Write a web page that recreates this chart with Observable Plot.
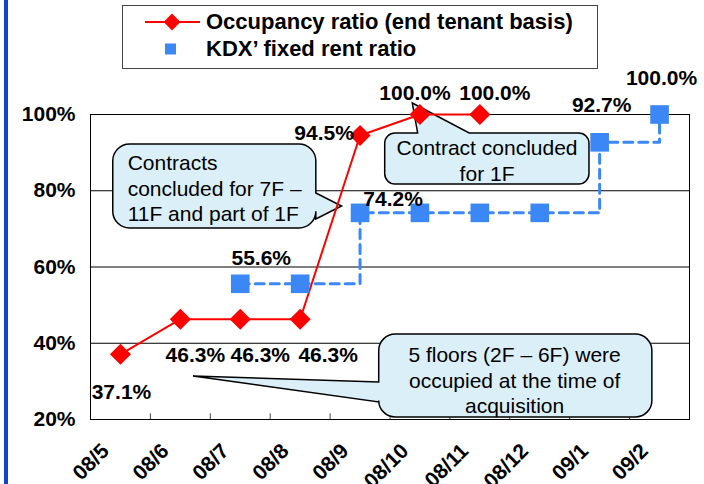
<!DOCTYPE html>
<html><head><meta charset="utf-8">
<script src="https://cdn.jsdelivr.net/npm/d3@7"></script>
<script src="https://cdn.jsdelivr.net/npm/@observablehq/plot@0.6"></script>
<style>
body{margin:0;background:#fff;}
#wrap{position:relative;width:704px;height:484px;overflow:hidden;font-family:"Liberation Sans",Arial,sans-serif;background:#fff;}
#chart{position:absolute;left:0;top:0;}
#bar{position:absolute;left:4px;top:0;width:4px;height:484px;background:#0e48c8;}
#legendBox{position:absolute;left:122px;top:5px;width:474px;height:62px;border:1px solid #444;background:#fff;}
.lg-text{position:absolute;left:206px;height:27px;line-height:27px;font-weight:bold;font-size:22px;color:#000;white-space:nowrap;}
#legendSym{position:absolute;left:140px;top:5px;}
</style></head>
<body><div id="wrap"><div id="chart"></div><div id="bar"></div><div id="legendBox"></div><svg id="legendSym" width="70" height="62"></svg><div class="lg-text" id="lg0" style="top:8px"></div><div class="lg-text" id="lg1" style="top:35px"></div></div>
<script>
// ---- data ----
const months = ["08/5","08/6","08/7","08/8","08/9","08/10","08/11","08/12","09/1","09/2"];
const occupancy = [37.1, 46.3, 46.3, 46.3, 94.5, 100.0, 100.0, null, null, null];
const fixedRent = [null, null, 55.6, 55.6, 74.2, 74.2, 74.2, 74.2, 92.7, 100.0];
const yTicks = [20, 40, 60, 80, 100];
const seriesNames = ["Occupancy ratio (end tenant basis)", "KDX\u2019 fixed rent ratio"];
const calloutTexts = [
  "Contracts\nconcluded for 7F \u2013\n11F and part of 1F",
  "Contract concluded\nfor 1F",
  "5 floors (2F \u2013 6F) were\noccupied at the time of\nacquisition"
];

// ---- layout (label offsets in px, callout geometry in data units) ----
const occLabelOffset = [[1,38],[15,36],[20,36],[28,36],[-36,-2],[-5,-21],[15,-21],null,null,null];
const fixLabelOffset = [null,null,[21,-26],null,[33,-14],null,null,null,[2,-37],[2,-36]];
const callouts = [
  {box:[-0.12, 3.27, 92.13, 70.10], tip:[3.70, 75.87], side:"right", base:[79.28, 72.46], tx:0.12, ty:80.85, anchor:"start"},
  {box:[4.42, 7.83, 95.02, 81.64], tip:[4.88, 102.89], side:"top", base:[4.97, 5.83], tx:6.12, ty:88.07, anchor:"middle"},
  {box:[4.32, 8.88, 42.30, 20.52], tip:[1.22, 31.28], side:"left", base:[29.70, 24.46], tx:6.58, ty:30.49, anchor:"middle"}
];

const RED = "#ff0000", BLUE = "#3b87f5", CALLFILL = "#dbeff9";
const fmt = v => v.toFixed(1) + "%";

const occData = months.map((m, i) => ({i, m, v: occupancy[i]})).filter(d => d.v != null);
const fixData = months.map((m, i) => ({i, m, v: fixedRent[i]})).filter(d => d.v != null);
const calloutData = callouts.map((c, k) => ({...c, text: calloutTexts[k]}));

const diamondSym = {draw(ctx, size) {
  const r = Math.sqrt(size) * 0.62625;
  ctx.moveTo(0, -r); ctx.lineTo(r, 0); ctx.lineTo(0, r); ctx.lineTo(-r, 0); ctx.closePath();
}};

function calloutShapes(index, scales) {
  const x = scales.x, y = scales.y;
  const g = d3.create("svg:g");
  for (const c of calloutData) {
    const X1 = x(c.box[0]), X2 = x(c.box[1]), YT = y(c.box[2]), YB = y(c.box[3]);
    const r = 0.2 * Math.min(X2 - X1, YB - YT);
    const T = [x(c.tip[0]), y(c.tip[1])];
    let p = `M${X1 + r},${YT}`;
    if (c.side === "top") { const [a, b] = c.base.map(v => x(v)).sort((m, n) => m - n); p += `L${a},${YT}L${T[0]},${T[1]}L${b},${YT}`; }
    p += `L${X2 - r},${YT}A${r},${r} 0 0 1 ${X2},${YT + r}`;
    if (c.side === "right") { const [a, b] = c.base.map(v => y(v)).sort((m, n) => m - n); p += `L${X2},${a}L${T[0]},${T[1]}L${X2},${b}`; }
    p += `L${X2},${YB - r}A${r},${r} 0 0 1 ${X2 - r},${YB}`;
    p += `L${X1 + r},${YB}A${r},${r} 0 0 1 ${X1},${YB - r}`;
    if (c.side === "left") { const [a, b] = c.base.map(v => y(v)).sort((m, n) => n - m); p += `L${X1},${a}L${T[0]},${T[1]}L${X1},${b}`; }
    p += `L${X1},${YT + r}A${r},${r} 0 0 1 ${X1 + r},${YT}Z`;
    g.append("path").attr("d", p).attr("fill", CALLFILL).attr("stroke", "#000").attr("stroke-width", 1.5);
  }
  return g.node();
}

const labelMarks = [];
occData.forEach(d => {
  const o = occLabelOffset[d.i];
  if (o) labelMarks.push(Plot.text([d], {x: "i", y: "v", text: e => fmt(e.v), dx: o[0], dy: o[1], fontWeight: "bold", fontSize: 21, fill: "#000"}));
});
fixData.forEach(d => {
  const o = fixLabelOffset[d.i];
  if (o) labelMarks.push(Plot.text([d], {x: "i", y: "v", text: e => fmt(e.v), dx: o[0], dy: o[1], fontWeight: "bold", fontSize: 21, fill: "#000"}));
});

const plot = Plot.plot({
  width: 704, height: 484,
  marginTop: 114, marginBottom: 65, marginLeft: 90, marginRight: 15,
  x: {type: "linear", domain: [-0.5, 9.5]},
  y: {domain: [20, 100]},
  style: {fontFamily: "'Liberation Sans', Arial, sans-serif", fontSize: "21px", background: "transparent", overflow: "visible", color: "#000"},
  marks: [
    Plot.ruleY(yTicks.filter(t => t > 20 && t < 100), {stroke: "#000", strokeWidth: 1}),
    Plot.ruleX(d3.range(1, months.length).map(i => i - 0.5), {y1: 20, y2: 21.5, stroke: "#444"}),
    calloutShapes,
    Plot.text(calloutData.filter(c => c.anchor === "start"), {x: "tx", y: "ty", text: "text", textAnchor: "start", lineHeight: 1.21, fontSize: 21, fill: "#000"}),
    Plot.text(calloutData.filter(c => c.anchor === "middle"), {x: "tx", y: "ty", text: "text", textAnchor: "middle", lineHeight: 1.21, fontSize: 21, fill: "#000"}),
    Plot.frame({stroke: "#000", strokeWidth: 1}),
    Plot.line(occData, {x: "i", y: "v", stroke: RED, strokeWidth: 2}),
    Plot.line(fixData, {x: "i", y: "v", curve: "step-after", stroke: BLUE, strokeWidth: 3, strokeDasharray: "9,6"}),
    Plot.dot(occData, {x: "i", y: "v", symbol: diamondSym, r: 9.5, fill: RED, stroke: "none"}),
    Plot.dot(fixData, {x: "i", y: "v", symbol: "square", r: 10.5, fill: BLUE, stroke: "none"}),
    ...labelMarks,
    Plot.axisY(yTicks, {tickFormat: d => d + "%", tickSize: 0, tickPadding: 15, fontSize: 21, fontWeight: "bold", label: null}),
    Plot.axisX(d3.range(months.length), {tickFormat: i => months[i], tickRotate: -45, tickSize: 0, tickPadding: 0, dx: -15, dy: 28, fontSize: 21, fontWeight: "bold", label: null})
  ]
});
document.getElementById("chart").appendChild(plot);

// ---- legend ----
const ls = d3.select("#legendSym");
ls.append("line").attr("x1", 5).attr("x2", 60).attr("y1", 17).attr("y2", 17).attr("stroke", RED).attr("stroke-width", 2);
ls.append("path").attr("d", d3.symbol(diamondSym, 180)()).attr("transform", "translate(32,17)").attr("fill", RED);
ls.append("rect").attr("x", 25).attr("y", 38.5).attr("width", 11).attr("height", 11).attr("fill", BLUE);
document.getElementById("lg0").textContent = seriesNames[0];
document.getElementById("lg1").textContent = seriesNames[1];
</script></body></html>
